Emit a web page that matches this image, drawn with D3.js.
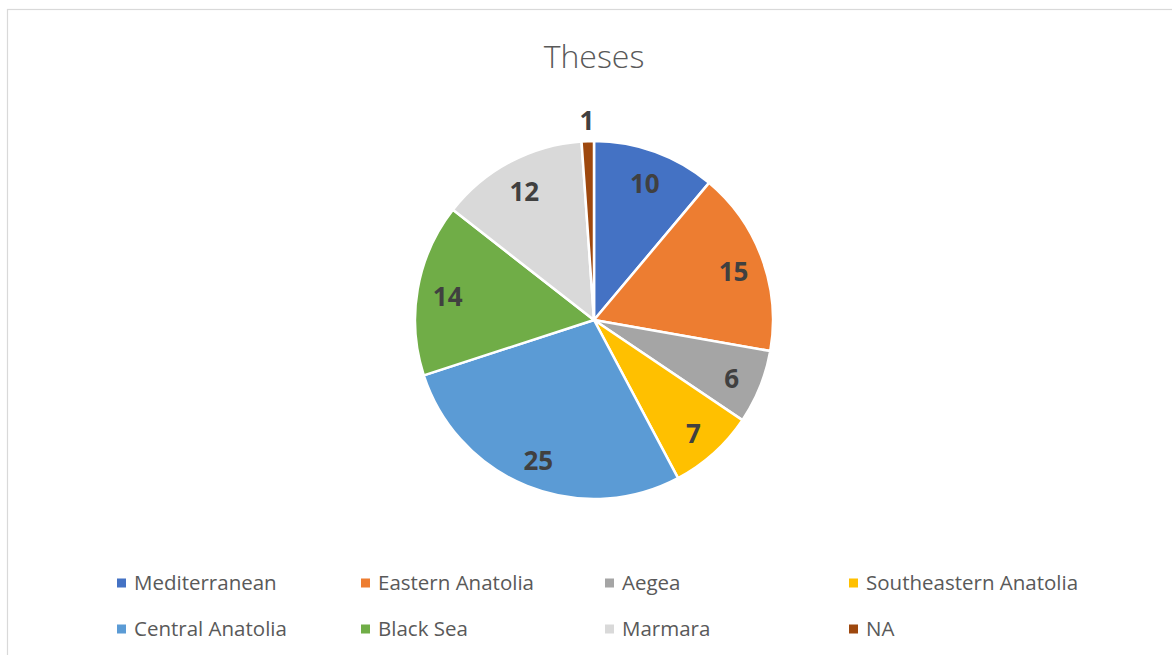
<!DOCTYPE html>
<html>
<head>
<meta charset="utf-8">
<script src="https://cdn.jsdelivr.net/npm/d3@7"></script>
<style>
  html, body { margin: 0; padding: 0; background: #ffffff; }
  svg { display: block; }
</style>
</head>
<body>
<svg id="chart" width="1172" height="655"></svg>
<script>
// Theses per region
const regions = ["Mediterranean", "Eastern Anatolia", "Aegea", "Southeastern Anatolia",
                 "Central Anatolia", "Black Sea", "Marmara", "NA"];
const theses = [10, 15, 6, 7, 25, 14, 12, 1];
const sliceColors = ["#4472C4", "#ED7D31", "#A5A5A5", "#FFC000",
                     "#5B9BD5", "#70AD47", "#D9D9D9", "#9E480E"];

const W = 1172, H = 655;
const svg = d3.select("#chart");

// chart area frame (open to the right and bottom)
svg.append("rect")
  .attr("x", 7.5).attr("y", 9.5)
  .attr("width", W + 20).attr("height", H + 20)
  .attr("fill", "#ffffff")
  .attr("stroke", "#d9d9d9").attr("stroke-width", 1.2);

// title
svg.append("text")
  .attr("x", 594).attr("y", 56).attr("dy", "0.36em")
  .attr("text-anchor", "middle")
  .attr("font-family", "'Open Sans', sans-serif").attr("font-weight", 300)
  .attr("font-size", 32).attr("fill", "#595959")
  .text("Theses");

const cx = 594, cy = 320, radius = 179;
const color = d3.scaleOrdinal().domain(regions).range(sliceColors);

const data = regions.map((r, i) => ({ region: r, value: theses[i] }));
const pie = d3.pie().value(d => d.value).sort(null);
const arcs = pie(data);
const arc = d3.arc().innerRadius(0).outerRadius(radius);

const g = svg.append("g").attr("transform", `translate(${cx},${cy})`);

g.selectAll("path.slice")
  .data(arcs)
  .join("path")
  .attr("class", "slice")
  .attr("d", arc)
  .attr("fill", d => color(d.data.region))
  .attr("stroke", "#ffffff")
  .attr("stroke-width", 2.5)
  .attr("stroke-linejoin", "round");

// value labels: inside for larger slices, just outside the rim for tiny ones
const total = d3.sum(theses);
const insideArc = d3.arc().innerRadius(radius * 0.83).outerRadius(radius * 0.83);
const outsideArc = d3.arc().innerRadius(radius + 23).outerRadius(radius + 23);

g.selectAll("text.val")
  .data(arcs)
  .join("text")
  .attr("class", "val")
  .attr("transform", d => {
    const p = (d.data.value / total < 0.03 ? outsideArc : insideArc).centroid(d);
    return `translate(${p[0]},${p[1]})`;
  })
  .attr("dy", "0.47em")
  .attr("text-anchor", "middle")
  .attr("font-family", "'Open Sans', sans-serif").attr("font-weight", 700)
  .attr("font-size", 26).attr("fill", "#404040")
  .text(d => d.data.value);

// legend: 4 columns x 2 rows
const legendX = d3.scalePoint().domain(d3.range(4)).range([117, 849]);
const legendY = d3.scalePoint().domain([0, 1]).range([583, 629]);

const leg = svg.append("g").selectAll("g.item")
  .data(regions)
  .join("g")
  .attr("class", "item")
  .attr("transform", (d, i) => `translate(${legendX(i % 4)},${legendY(Math.floor(i / 4))})`);

leg.append("rect")
  .attr("x", 0).attr("y", -4.5)
  .attr("width", 9).attr("height", 9)
  .attr("fill", d => color(d));

leg.append("text")
  .attr("x", 17).attr("y", 0).attr("dy", "0.36em")
  .attr("font-family", "'Open Sans', sans-serif")
  .attr("font-size", 20.5).attr("fill", "#595959")
  .text(d => d);
</script>
</body>
</html>
